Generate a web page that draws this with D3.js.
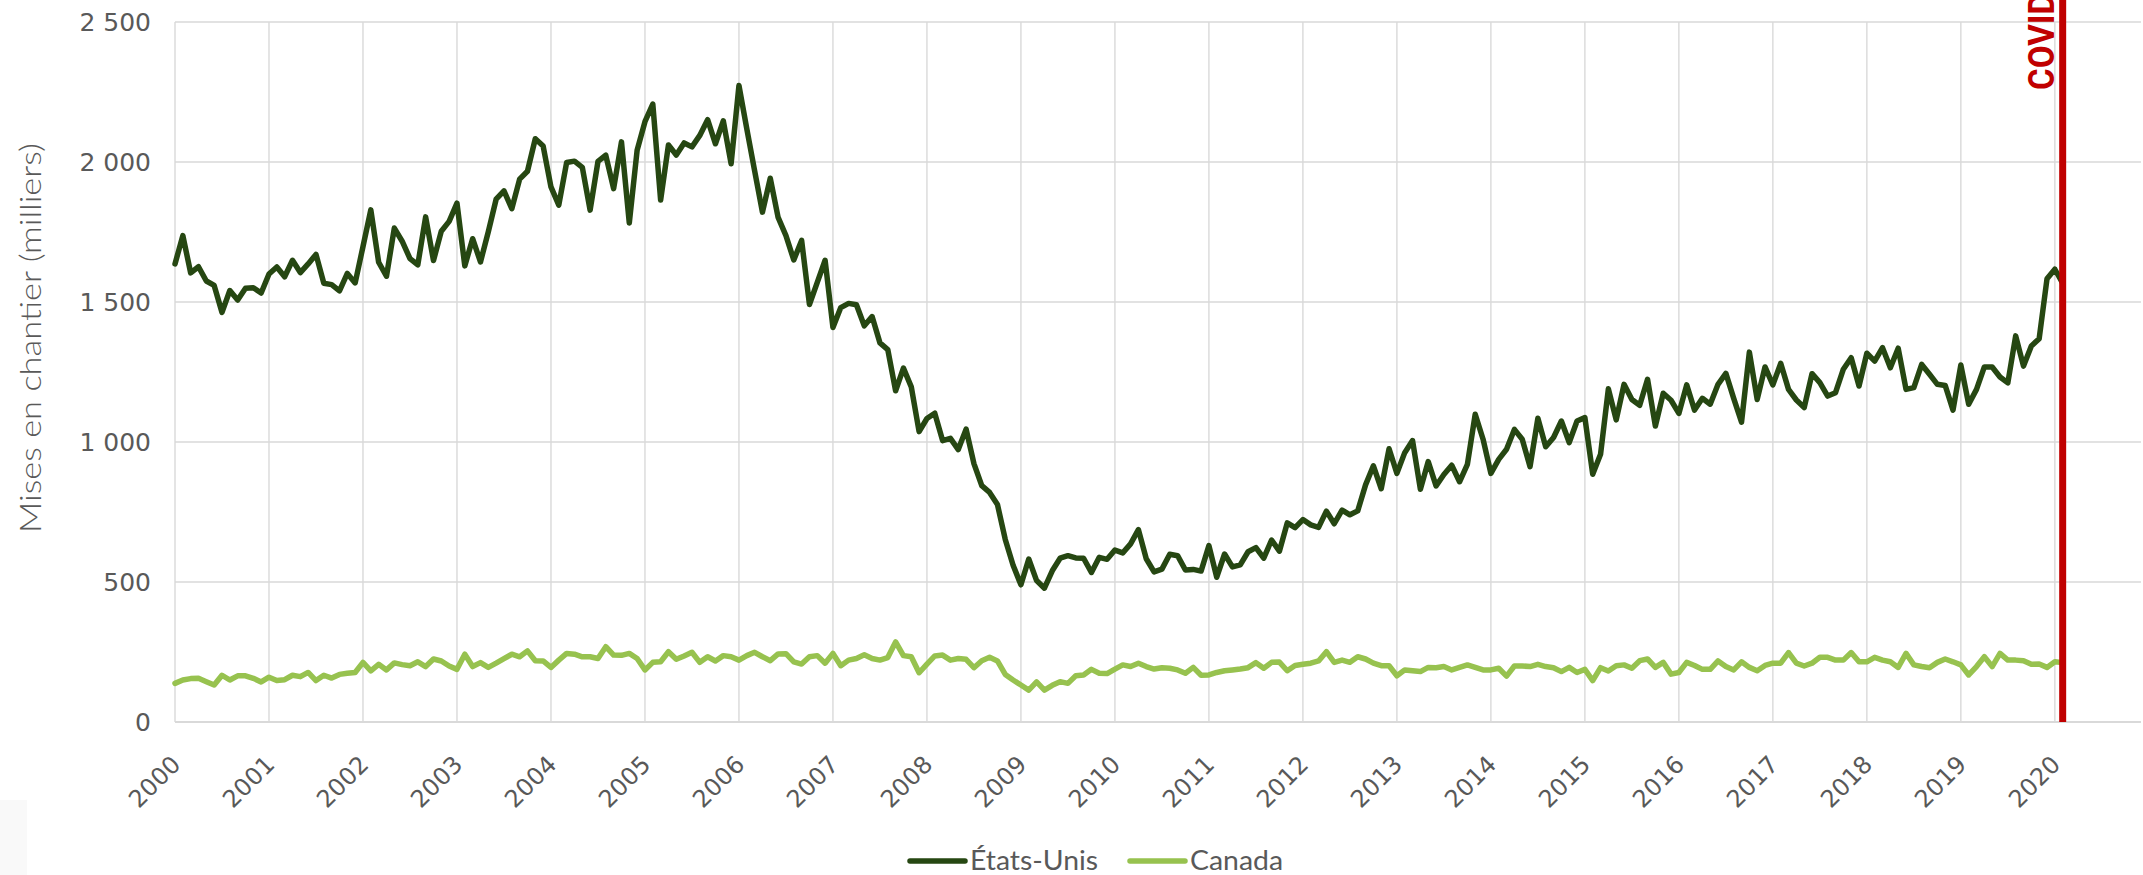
<!DOCTYPE html>
<html>
<head>
<meta charset="utf-8">
<script src="https://cdn.jsdelivr.net/npm/d3@7"></script>
<style>
  html, body { margin: 0; padding: 0; background: #ffffff; }
  svg { display: block; }
</style>
</head>
<body>
<svg id="chart" width="2143" height="875"></svg>
<script>
// ---- Data (monthly, Jan 2000 – Feb 2020, thousands of units, SAAR) ----
const startYear = 2000;
const yearLabels = ["2000","2001","2002","2003","2004","2005","2006","2007","2008","2009","2010",
                    "2011","2012","2013","2014","2015","2016","2017","2018","2019","2020"];
const yTickValues = [0, 500, 1000, 1500, 2000, 2500];
const yTickLabels = ["0", "500", "1 000", "1 500", "2 000", "2 500"];
const seriesNames = ["États-Unis", "Canada"];

const usStarts = [
  1636,1737,1604,1626,1575,1559,1463,1541,1507,1549,1551,1532,
  1600,1625,1590,1649,1605,1636,1670,1567,1562,1540,1602,1568,
  1698,1829,1642,1592,1764,1717,1655,1633,1804,1648,1753,1788,
  1853,1629,1726,1643,1751,1867,1897,1833,1939,1967,2083,2057,
  1911,1846,1998,2003,1981,1828,2002,2024,1905,2072,1782,2042,
  2144,2207,1864,2061,2025,2068,2054,2095,2151,2065,2147,1994,
  2273,2119,1969,1821,1942,1802,1737,1650,1720,1491,1570,1649,
  1409,1480,1495,1490,1415,1448,1354,1330,1183,1264,1197,1037,
  1084,1103,1005,1013,973,1046,923,844,820,777,652,560,
  490,582,505,478,540,585,594,586,585,534,588,581,
  614,604,636,687,583,536,546,599,594,543,545,539,
  630,517,600,554,561,608,623,585,650,610,711,694,
  723,704,695,753,708,757,740,754,847,915,833,976,
  888,962,1005,831,930,843,884,917,858,920,1099,1010,
  888,938,974,1045,1010,912,1085,983,1016,1075,998,1075,
  1087,885,956,1190,1079,1206,1152,1131,1224,1057,1174,1149,
  1102,1204,1114,1156,1135,1206,1245,1156,1071,1321,1152,1268,
  1204,1281,1188,1150,1123,1244,1212,1164,1176,1260,1301,1200,
  1317,1289,1337,1265,1335,1188,1194,1277,1242,1206,1202,1114,
  1275,1135,1188,1268,1268,1232,1211,1379,1271,1343,1369,1583,
  1617,1567
];

const canadaStarts = [
  138,150,155,156,144,132,167,150,165,165,156,143,
  160,148,151,167,162,177,148,167,157,170,174,177,
  213,183,206,186,211,205,201,215,198,225,218,200,
  188,242,198,212,195,210,226,242,233,254,219,218,
  195,221,245,242,233,233,227,269,239,238,245,227,
  186,213,215,251,224,236,249,213,233,218,237,233,
  221,237,249,233,219,243,244,215,207,233,237,210,
  245,201,221,227,240,227,221,230,286,237,233,176,
  207,236,239,221,227,224,194,219,231,218,170,150,
  132,114,143,114,131,144,138,165,168,188,174,173,
  189,204,198,210,198,189,194,192,186,174,195,167,
  168,177,183,186,189,194,212,192,213,214,183,202,
  206,210,218,251,213,221,213,233,225,210,201,201,
  165,186,183,180,195,194,198,186,195,204,195,186,
  186,192,164,200,200,198,206,198,194,180,195,177,
  188,148,194,182,201,204,192,219,225,195,213,171,
  177,213,202,188,188,218,198,186,215,195,183,202,
  210,210,248,210,200,210,231,231,221,221,248,215,
  215,231,221,215,195,245,204,198,194,213,225,215,
  204,168,198,233,198,245,221,221,219,206,207,195,
  215,212
];

const covidLabel = "COVID";
const covidMonthIndex = 241; // Feb 2020

// ---- Layout / style ----
const W = 2143, H = 875;
const plot = { left: 175, right: 2141, top: 22, bottom: 722 };
const colors = { us: "#264712", canada: "#97c24f", grid: "#d9d9d9", text: "#595959", covid: "#c00000" };

const svg = d3.select("#chart");

// faint artifact box bottom-left
svg.append("rect").attr("x", 0).attr("y", 800).attr("width", 27).attr("height", 75).attr("fill", "#f9f9f9");

const x = d3.scaleLinear().domain([0, 251]).range([plot.left, plot.right]);
const y = d3.scaleLinear().domain([0, 2500]).range([plot.bottom, plot.top]);

const gGrid = svg.append("g");
gGrid.selectAll("line.h").data(yTickValues.filter(v => v > 0)).join("line")
  .attr("x1", plot.left).attr("x2", plot.right)
  .attr("y1", d => y(d)).attr("y2", d => y(d))
  .attr("stroke", colors.grid).attr("stroke-width", 1.4);
gGrid.selectAll("line.v").data(yearLabels.map((s, i) => i * 12)).join("line")
  .attr("x1", d => x(d)).attr("x2", d => x(d))
  .attr("y1", plot.top).attr("y2", plot.bottom)
  .attr("stroke", colors.grid).attr("stroke-width", 1.4);
svg.append("line").attr("x1", plot.left).attr("x2", plot.right)
  .attr("y1", y(0)).attr("y2", y(0)).attr("stroke", colors.grid).attr("stroke-width", 2);

// y tick labels
svg.append("g").selectAll("text").data(yTickValues).join("text")
  .attr("x", 151).attr("y", d => y(d)).attr("dy", "0.36em")
  .attr("text-anchor", "end")
  .attr("font-family", "'DejaVu Sans', Verdana, sans-serif").attr("font-size", 25)
  .attr("fill", colors.text)
  .text((d, i) => yTickLabels[i]);

// x tick labels, rotated
svg.append("g").selectAll("text").data(yearLabels).join("text")
  .attr("transform", (d, i) => `translate(${x(i * 12) + 7},${766}) rotate(-45)`)
  .attr("text-anchor", "end")
  .attr("font-family", "'DejaVu Sans', Verdana, sans-serif").attr("font-size", 24)
  .attr("fill", colors.text)
  .text(d => d);

// y axis title
svg.append("text")
  .attr("transform", "translate(41,338) rotate(-90)")
  .attr("text-anchor", "middle")
  .attr("font-family", "Lato, 'Open Sans', sans-serif").attr("font-weight", 300)
  .attr("font-size", 30).attr("fill", colors.text)
  .attr("textLength", 390).attr("lengthAdjust", "spacingAndGlyphs")
  .text("Mises en chantier (milliers)");

// lines
const line = d3.line().x((d, i) => x(i)).y(d => y(d)).curve(d3.curveLinear);
svg.append("path").datum(canadaStarts).attr("d", line)
  .attr("fill", "none").attr("stroke", colors.canada).attr("stroke-width", 5.5)
  .attr("stroke-linejoin", "round").attr("stroke-linecap", "round");
svg.append("path").datum(usStarts).attr("d", line)
  .attr("fill", "none").attr("stroke", colors.us).attr("stroke-width", 5.5)
  .attr("stroke-linejoin", "round").attr("stroke-linecap", "round");

// COVID marker
svg.append("line")
  .attr("x1", x(covidMonthIndex)).attr("x2", x(covidMonthIndex))
  .attr("y1", 0).attr("y2", y(0))
  .attr("stroke", colors.covid).attr("stroke-width", 7);
svg.append("text")
  .attr("transform", `translate(${x(covidMonthIndex) - 9},90) rotate(-90)`)
  .attr("text-anchor", "start")
  .attr("font-family", "'Liberation Sans Narrow', 'Roboto', sans-serif").attr("font-weight", "bold")
  .attr("font-size", 36).attr("fill", colors.covid)
  .attr("textLength", 97).attr("lengthAdjust", "spacingAndGlyphs")
  .text(covidLabel);

// legend
const legend = svg.append("g");
const legItems = [
  { name: seriesNames[0], color: colors.us, x0: 910, x1: 965, tx: 970, tl: 128 },
  { name: seriesNames[1], color: colors.canada, x0: 1130, x1: 1185, tx: 1190, tl: 93 }
];
legItems.forEach(it => {
  legend.append("line").attr("x1", it.x0).attr("x2", it.x1).attr("y1", 861).attr("y2", 861)
    .attr("stroke", it.color).attr("stroke-width", 5.5).attr("stroke-linecap", "round");
  legend.append("text").attr("x", it.tx).attr("y", 870)
    .attr("font-family", "Lato, 'Open Sans', sans-serif").attr("font-size", 26)
    .attr("fill", colors.text)
    .attr("textLength", it.tl).attr("lengthAdjust", "spacingAndGlyphs")
    .text(it.name);
});
</script>
</body>
</html>
